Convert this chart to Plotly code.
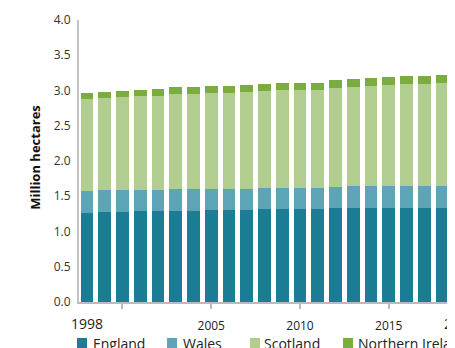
import plotly.graph_objects as go

years = list(range(1998, 2020))
england = [1.26, 1.274, 1.274, 1.288, 1.288, 1.288, 1.288, 1.302, 1.302, 1.302, 1.316,
           1.316, 1.316, 1.316, 1.33, 1.33, 1.33, 1.33, 1.33, 1.33, 1.33, 1.33]
wales = [0.308, 0.308, 0.308, 0.298, 0.298, 0.312, 0.312, 0.308, 0.308, 0.308, 0.298,
         0.298, 0.298, 0.298, 0.298, 0.312, 0.312, 0.312, 0.312, 0.312, 0.312, 0.312]
scotland = [1.305, 1.305, 1.319, 1.329, 1.343, 1.348, 1.348, 1.352, 1.352, 1.366, 1.38,
            1.39, 1.39, 1.39, 1.404, 1.404, 1.418, 1.433, 1.447, 1.447, 1.461, 1.475]
n_ireland = [0.089, 0.089, 0.089, 0.089, 0.089, 0.099, 0.099, 0.099, 0.099, 0.099, 0.099,
             0.099, 0.099, 0.099, 0.113, 0.113, 0.113, 0.113, 0.113, 0.113, 0.113, 0.113]

series = [("England", england, "#1a7d94"),
          ("Wales", wales, "#5da4b7"),
          ("Scotland", scotland, "#b1cd8f"),
          ("Northern Ireland", n_ireland, "#7bac3f")]

y_ticks = [0, 0.5, 1, 1.5, 2, 2.5, 3, 3.5, 4]
x_tickvals = [2000, 2005, 2010, 2015]
x_ticktext = ["", "2005", "2010", "2015"]
edge_labels = [1998, 2019]

OFF = 8  # default page body margin
W, H = 455 - OFF, 348 - OFF
L = 79 - OFF
T = 20 - OFF
B = H - (302.5 - OFF)
plot_w = W - L
plot_h = H - T - B
K = 17.75  # px per year
x0 = 1997.55
x1 = x0 + plot_w / K

fig = go.Figure()
for name, vals, col in series:
    fig.add_trace(go.Bar(x=years, y=vals, name=name, marker=dict(color=col, line=dict(width=0)),
                         showlegend=False))

font = "Open Sans, DejaVu Sans, sans-serif"

def pxx(page_px):
    return (page_px - OFF - L) / plot_w

def pxy(page_py):
    return (H - B - (page_py - OFF)) / plot_h

annotations = []
for yr in edge_labels:
    annotations.append(dict(x=pxx(79 + (yr - x0) * K), y=pxy(324.5),
                            xref="paper", yref="paper", text=str(yr), showarrow=False,
                            xanchor="center", yanchor="middle",
                            font=dict(family=font, size=14, color="#222")))
annotations.append(dict(x=pxx(35), y=pxy(158), xref="paper", yref="paper",
                        text="<b>Million hectares</b>", textangle=-90, showarrow=False,
                        xanchor="center", yanchor="middle",
                        font=dict(family=font, size=13, color="#111")))

shapes = []
leg_sq = [77, 167, 250, 343]
leg_tx = [91, 181, 262, 356]
for (name, _, col), sx, tx in zip(series, leg_sq, leg_tx):
    shapes.append(dict(type="rect", xref="paper", yref="paper",
                       x0=pxx(sx), x1=pxx(sx + 10),
                       y0=pxy(349), y1=pxy(338.5),
                       fillcolor=col, line=dict(width=0)))
    annotations.append(dict(x=pxx(tx), y=pxy(344), xref="paper", yref="paper",
                            text=name, showarrow=False, xanchor="left", yanchor="middle",
                            font=dict(family=font, size=14, color="#222")))

fig.update_layout(
    template="none",
    barmode="stack",
    bargap=0.27,
    width=W, height=H,
    margin=dict(l=L, r=0, t=T, b=B, pad=0),
    paper_bgcolor="white", plot_bgcolor="white",
    font=dict(family=font, size=12, color="#333"),
    annotations=annotations,
    shapes=shapes,
    showlegend=False,
    xaxis=dict(range=[x0, x1], tickvals=x_tickvals, ticktext=x_ticktext,
               ticks="outside", ticklen=5, tickwidth=2, tickcolor="#bbbbbb",
               showline=True, linecolor="#bbbbbb", linewidth=2, showgrid=False,
               zeroline=False, ticklabelstandoff=7, automargin=False,
               tickfont=dict(family=font, size=12, color="#222")),
    yaxis=dict(range=[0, 4], tickvals=y_ticks, tickformat=".1f",
               showline=True, linecolor="#c4c4c4", linewidth=2, showgrid=False,
               zeroline=False, ticks="", automargin=False, ticklabelstandoff=4,
               tickfont=dict(family=font, size=12, color="#333")),
)

fig.write_html("out.html")
